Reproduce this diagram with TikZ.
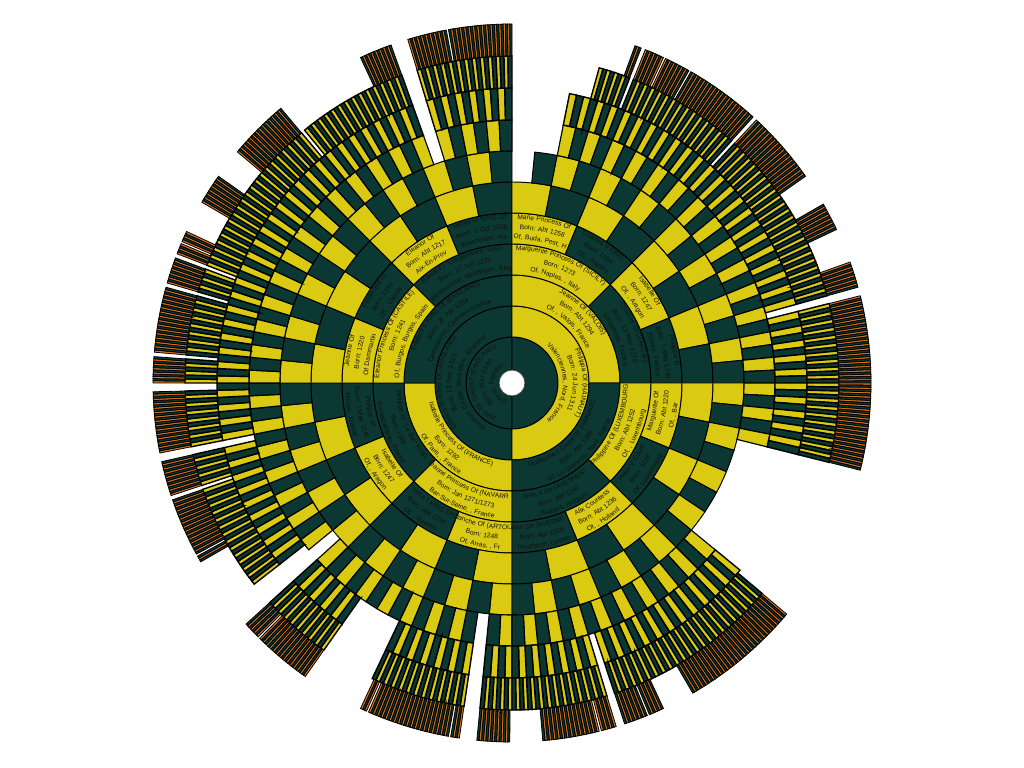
\documentclass[tikz,border=0pt]{standalone}
\usepackage{fontspec}
\setmainfont{Liberation Sans}[LetterSpace=6]
\usetikzlibrary{decorations.text}
\definecolor{dk}{RGB}{11,56,50}
\definecolor{yl}{RGB}{218,202,18}
\definecolor{og}{RGB}{222,112,26}
\definecolor{tx}{RGB}{18,18,12}
% maximum generation for each 5-degree bin (bin i = angles 5i..5i+5)
\def\MG{{10,10,10,10,9,10,9,10,10,10,10,10,10,10,9,8,6,5,10,10,10,10,10,9,9,9,10,10,9,10,9,10,10,10,10,10,10,10,10,10,10,10,9,9,10,10,10,7,7,10,10,10,10,10,9,10,10,10,10,9,10,10,10,10,6,6,6,6,6,10,10,10}}
\def\RR{{13,46,77,108,139,170,201,232,263,295,327,359}}
\newcommand\tf{\fontsize{3.8}{4.5}\selectfont\color{tx}}
% #1 generation, #2 high angle, #3 low angle, #4 0=mother 1=father
\newcommand\anc[4]{%
 \begingroup
 \pgfmathsetmacro\md{(#2+#3)/2}%
 \pgfmathtruncatemacro\bin{mod(floor(mod(\md+720,360)/5),72)}%
 \pgfmathtruncatemacro\mg{\MG[\bin]}%
 \pgfmathrandominteger\rr{1}{100}%
 \pgfmathtruncatemacro\ok{and(#1<\mg+1,or(#1<7,\rr>2))}%
 \ifnum\ok=1
  \pgfmathsetmacro\ri{\RR[#1]}%
  \pgfmathsetmacro\ro{\RR[#1+1]}%
  \ifcase#4 \def\fc{yl}\or\def\fc{dk}\fi
  \ifnum#1=10 \ifnum#4=0 \def\fc{og}\fi\fi
  \def\lw{0.55pt}%
  \ifnum#1>6 \def\lw{0.65pt}\fi
  \ifnum#1>7 \def\lw{0.8pt}\fi
  \ifnum#1>9 \def\lw{0.45pt}\fi
  \filldraw[fill=\fc,draw=black,line width=\lw] (#2:\ri) -- (#2:\ro) arc[start angle=#2,end angle=#3,radius=\ro] -- (#3:\ri) arc[start angle=#3,end angle=#2,radius=\ri] -- cycle;
  \ifnum#1<\mg
   \pgfmathtruncatemacro\ng{#1+1}%
   \edef\next{\noexpand\anc{\ng}{#2}{\md}{0}\noexpand\anc{\ng}{\md}{#3}{1}}%
   \next
  \fi
 \fi
 \endgroup}
% text lines of a wedge, reading clockwise (outward facing)
\newcommand\cwtext[6]{%
 \pgfmathsetmacro\ta{#1-1.2}\pgfmathsetmacro\tb{#2+1.2}%
 \pgfmathsetmacro\ra{#3+25}\pgfmathsetmacro\rb{#3+15}\pgfmathsetmacro\rc{#3+5}%
 \path[decorate,decoration={text along path,text align=center,text={|\tf|#4}}] (\ta:\ra) arc[start angle=\ta,end angle=\tb,radius=\ra];
 \path[decorate,decoration={text along path,text align=center,text={|\tf|#5}}] (\ta:\rb) arc[start angle=\ta,end angle=\tb,radius=\rb];
 \path[decorate,decoration={text along path,text align=center,text={|\tf|#6}}] (\ta:\rc) arc[start angle=\ta,end angle=\tb,radius=\rc];}
% text lines of a wedge, reading counter-clockwise (inward facing)
\newcommand\ccwtext[6]{%
 \pgfmathsetmacro\ta{#2+1.2}\pgfmathsetmacro\tb{#1-1.2}%
 \pgfmathsetmacro\ra{#3+8}\pgfmathsetmacro\rb{#3+18}\pgfmathsetmacro\rc{#3+28}%
 \path[decorate,decoration={text along path,text align=center,text={|\tf|#4}}] (\ta:\ra) arc[start angle=\ta,end angle=\tb,radius=\ra];
 \path[decorate,decoration={text along path,text align=center,text={|\tf|#5}}] (\ta:\rb) arc[start angle=\ta,end angle=\tb,radius=\rb];
 \path[decorate,decoration={text along path,text align=center,text={|\tf|#6}}] (\ta:\rc) arc[start angle=\ta,end angle=\tb,radius=\rc];}
\begin{document}
\begin{tikzpicture}[scale=0.02]
\useasboundingbox (-512,-385) rectangle (512,383);
\fill[white] (-512,-385) rectangle (512,383);
\pgfmathsetseed{11}
% root person
\filldraw[fill=dk,draw=black,line width=0.55pt] (90:13) -- (90:46) arc[start angle=90,end angle=270,radius=46] -- (270:13) arc[start angle=270,end angle=90,radius=13] -- cycle;
\filldraw[fill=dk,draw=black,line width=0.55pt] (90:13) -- (90:46) arc[start angle=90,end angle=-90,radius=46] -- (-90:13) arc[start angle=-90,end angle=90,radius=13] -- cycle;
% ancestors: father (left half), mother (right half)
\anc{1}{270}{90}{1}
\anc{1}{90}{-90}{0}
\filldraw[fill=white,draw=black!70,line width=0.5pt] (0,0) circle[radius=13];
% texts
\cwtext{250}{110}{13}{John Of GAUNT (ENGLAND)}{Born: Mar 1340}{Ghent, Flanders}
\cwtext{250}{110}{46}{Edward III KING Of (ENGLAND)}{Born: 13 Nov 1312}{Windsor Castle, Berkshire, England}
\cwtext{70}{-70}{46}{Philippa Of (HAINAUT)}{Born: 24 Jun 1311}{Valenciennes, Nord, France}
\ccwtext{270}{180}{77}{Isabelle Princess Of (FRANCE)}{Born: 1292}{Of, Paris, , France}
\cwtext{180}{90}{77}{Edward II KING Of (ENGLAND)}{Born: 25 Apr 1284}{Caernarvon, Caernarvonshire}
\cwtext{90}{0}{77}{Jeanne Of (VALOIS)}{Born: Abt 1294}{Of, , Valois, France}
\ccwtext{0}{-90}{77}{Guillaume I Count Of (HAINAUT)}{Born: Abt 1286}{Of, Le Quesnoy, Nord, France}
\ccwtext{270}{225}{108}{Jeanne Princess Of (NAVARRE)}{Born: Jan 1271/1273}{Bar-Sur-Seine, , France}
\ccwtext{225}{180}{108}{Philippe IV "Le Bel" KING}{Born: 1268}{Fontainebleau, France}
\cwtext{180}{135}{108}{Eleanor Princess Of (CASTILE)}{Born: 1241}{Of, Burgos, Burgos, Spain}
\cwtext{135}{90}{108}{Edward I "Longshanks" KING}{Born: 17 Jun 1239}{Westminster, Middlesex, Eng}
\cwtext{90}{45}{108}{Marguerite Princess Of (SICILY)}{Born: 1273}{Of, Naples, , Italy}
\cwtext{45}{0}{108}{Charles Of (VALOIS)}{Born: 12 Mar 1270}{Vincennes, France}
\ccwtext{0}{-45}{108}{Philippine Of (LUXEMBOURG)}{Born: Abt 1252}{Of, , Luxembourg}
\ccwtext{-45}{-90}{108}{Jean II De (AVESNES)}{Born: Abt 1247}{, Brabant, Belgium}
\ccwtext{270}{247.5}{139}{Blanche Of (ARTOIS)}{Born: 1248}{Of, Arras, , Fr}
\ccwtext{247.5}{225}{139}{Henri I KING Of}{Born: Abt 1244}{Of, , Navarre}
\ccwtext{225}{202.5}{139}{Isabelle Of}{Born: 1247}{Of, , Aragon}
\ccwtext{202.5}{180}{139}{Philippe III}{Born: 1 May 1245}{Poissy, France}
\cwtext{180}{157.5}{139}{Jeanne Of}{Born: 1220}{Of Dammartin}
\cwtext{157.5}{135}{139}{Ferdinand III}{Born: 1199}{Of, , Castile}
\cwtext{135}{112.5}{139}{Eleanor Of}{Born: Abt 1217}{Aix-En-Prov}
\cwtext{112.5}{90}{139}{Henry III KING Of}{Born: 1 Oct 1206}{Winchester, Ha}
\cwtext{90}{67.5}{139}{Marie Princess Of}{Born: Abt 1258}{Of, Buda, Pest, H}
\cwtext{67.5}{45}{139}{Charles II KING}{Born: 1254}{Of, , Naples}
\cwtext{45}{22.5}{139}{Isabelle Of}{Born: 1247}{Of, , Aragon}
\cwtext{22.5}{0}{139}{Philippe III}{Born: 1 May 1245}{Poissy, France}
\ccwtext{0}{-22.5}{139}{Marguerite Of}{Born: Abt 1220}{Of, , Bar}
\ccwtext{-22.5}{-45}{139}{Henri V Count}{Born: 1216}{Of, Luxembourg}
\ccwtext{-45}{-67.5}{139}{Alix Countess}{Born: Abt 1236}{Of, , Holland}
\ccwtext{-67.5}{-90}{139}{Jean De (AVESNES)}{Born: Apr 1218}{Houffalize, Luxem}
\end{tikzpicture}
\end{document}
